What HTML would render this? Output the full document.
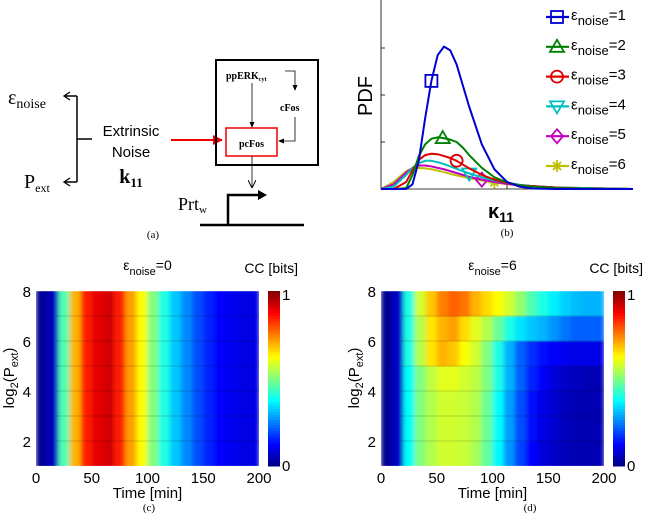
<!DOCTYPE html>
<html><head><meta charset="utf-8"><style>
body{margin:0;background:#fff;}
svg{display:block;font-family:"Liberation Sans",sans-serif;}
.serif{font-family:"Liberation Serif",serif;}
</style></head><body>
<svg id="fig" width="657" height="514" viewBox="0 0 657 514">
<defs>
<marker id="ah" markerWidth="8" markerHeight="8" refX="7" refY="4" orient="auto" markerUnits="userSpaceOnUse"><path d="M0,0 L8,4 L0,8" fill="none" stroke="#000" stroke-width="1"/></marker>
<marker id="ahf" markerWidth="6" markerHeight="6" refX="5" refY="3" orient="auto" markerUnits="userSpaceOnUse"><path d="M0,0.5 L6,3 L0,5.5z" fill="#000"/></marker>
<marker id="ahr" markerWidth="10" markerHeight="10" refX="9" refY="5" orient="auto" markerUnits="userSpaceOnUse"><path d="M0,0 L10,5 L0,10z" fill="#e00"/></marker>
<filter id="hblur" x="0" y="0" width="1" height="1"><feGaussianBlur stdDeviation="2.5 0.4" edgeMode="duplicate"/></filter>
</defs>
<g>
<text x="8" y="104" font-size="20" class="serif">ε<tspan font-size="14" dy="4">noise</tspan></text>
<text x="24" y="188" font-size="20" class="serif">P<tspan font-size="12" dy="4">ext</tspan></text>
<path d="M77,96 V182 M77,139 H92 M77,96 H65 M77,182 H65" stroke="#000" stroke-width="1.5" fill="none"/>
<path d="M70,92 L64,96 L70,100 M70,178 L64,182 L70,186" stroke="#000" stroke-width="1.3" fill="none"/>
<text x="131" y="136" font-size="15" text-anchor="middle">Extrinsic</text>
<text x="131" y="157" font-size="15" text-anchor="middle">Noise</text>
<text x="131" y="183" font-size="20" font-weight="bold" text-anchor="middle" class="serif">k<tspan font-size="13" dy="4">11</tspan></text>
<line x1="171" y1="140" x2="222" y2="140" stroke="#e00" stroke-width="2" marker-end="url(#ahr)"/>
<rect x="216" y="60" width="102" height="105" fill="none" stroke="#000" stroke-width="2"/>
<text x="226" y="79" font-size="10" font-weight="bold" class="serif">ppERK<tspan font-size="6" dy="2">cyt</tspan></text>
<text x="280" y="111" font-size="10" font-weight="bold" class="serif">cFos</text>
<rect x="226" y="128" width="51" height="28" fill="none" stroke="#e00" stroke-width="1.5"/>
<text x="251.5" y="147" font-size="10" font-weight="bold" text-anchor="middle" class="serif">pcFos</text>
<path d="M252,83 V127" stroke="#000" stroke-width="0.8" marker-end="url(#ahf)"/>
<path d="M285,71 H295 V90" stroke="#000" stroke-width="0.8" fill="none" marker-end="url(#ahf)"/>
<path d="M295,117 V141 H279" stroke="#000" stroke-width="0.8" fill="none" marker-end="url(#ahf)"/>
<path d="M252,156 V187" stroke="#000" stroke-width="0.8" marker-end="url(#ah)"/>
<text x="178" y="210" font-size="18" class="serif">Prt<tspan font-size="11" dy="3">w</tspan></text>
<path d="M228,225 V195 H262" stroke="#000" stroke-width="2.5" fill="none"/>
<path d="M258,190 L267,195 L258,200z" fill="#000"/>
<line x1="200" y1="225" x2="304" y2="225" stroke="#000" stroke-width="2.5"/>
<text x="153" y="238" font-size="11" text-anchor="middle" class="serif">(a)</text>
</g>
<g id="pb">
<text x="507" y="236" font-size="11" text-anchor="middle" class="serif">(b)</text>
</g>
<g id="pc"></g>
<g id="pd"></g>
</svg>
<script>
// ---- Panel b data ----
const kappaX=[0,0.5,1,1.25,1.5,1.75,2,2.25,2.5,2.75,3,3.25,3.5,4,4.5,5,5.5,6,7,8,10];
const pdf1=[0,0,0,0.1,0.6,1.5,2.3,2.85,3.03,2.95,2.65,2.2,1.75,0.95,0.42,0.15,0.05,0.01,0,0,0];
const pdf2=[0,0,0.02,0.3,0.7,0.95,1.07,1.1,1.08,1.05,1.0,0.88,0.72,0.45,0.25,0.14,0.08,0.05,0.02,0.01,0];
const pdf3=[0,0,0.15,0.4,0.62,0.72,0.75,0.74,0.7,0.66,0.6,0.52,0.44,0.3,0.2,0.13,0.08,0.06,0.03,0.01,0];
const pdf4=[0,0.05,0.3,0.45,0.55,0.6,0.6,0.57,0.53,0.48,0.43,0.38,0.33,0.25,0.18,0.13,0.09,0.06,0.03,0.02,0];
const pdf5=[0,0.1,0.35,0.45,0.5,0.5,0.48,0.45,0.42,0.38,0.34,0.3,0.26,0.2,0.15,0.11,0.08,0.06,0.03,0.02,0];
const pdf6=[0,0.15,0.38,0.44,0.45,0.44,0.42,0.39,0.36,0.32,0.29,0.26,0.23,0.18,0.14,0.1,0.08,0.06,0.03,0.02,0];
const markerX=[2.0,2.45,3.0,3.5,4.0,4.5];
const legendLabels=["1","2","3","4","5","6"];
// ---- Heatmap data ----
const timeBins=[0,10,20,30,40,50,60,70,80,90,100,110,120,130,140,150,160,170,180,190];
const timeTicks=[0,50,100,150,200];
const yTicks=[2,4,6,8];
const rowC=[0.02,0.06,0.45,0.7,0.85,0.9,0.92,0.85,0.72,0.62,0.5,0.4,0.32,0.26,0.2,0.16,0.13,0.11,0.1,0.1];
const ccNoise0=[rowC,rowC,rowC,rowC,rowC,rowC,rowC];
const dRow1=[0.02,0.07,0.38,0.5,0.55,0.58,0.58,0.57,0.54,0.47,0.37,0.27,0.19,0.13,0.09,0.07,0.06,0.05,0.05,0.05];
const dRow2=[0.02,0.07,0.38,0.5,0.55,0.58,0.58,0.57,0.55,0.48,0.38,0.28,0.2,0.14,0.1,0.08,0.06,0.05,0.05,0.05];
const dRow3=[0.02,0.07,0.38,0.5,0.55,0.58,0.58,0.57,0.55,0.48,0.38,0.28,0.2,0.14,0.1,0.08,0.06,0.05,0.05,0.05];
const dRow4=[0.02,0.07,0.38,0.5,0.56,0.6,0.6,0.58,0.56,0.5,0.4,0.3,0.22,0.16,0.12,0.09,0.07,0.06,0.05,0.05];
const dRow5=[0.02,0.07,0.4,0.55,0.65,0.7,0.68,0.62,0.58,0.5,0.4,0.3,0.22,0.17,0.14,0.12,0.11,0.1,0.1,0.1];
const dRow6=[0.02,0.07,0.4,0.55,0.65,0.7,0.72,0.66,0.6,0.55,0.48,0.4,0.35,0.32,0.3,0.27,0.24,0.22,0.22,0.22];
const dRow7=[0.02,0.07,0.4,0.58,0.68,0.75,0.78,0.76,0.7,0.66,0.62,0.58,0.52,0.45,0.4,0.36,0.33,0.31,0.3,0.3];
const ccNoise6=[dRow1,dRow2,dRow3,dRow4,dRow5,dRow6,dRow7];

const NS='http://www.w3.org/2000/svg';
function mk(tag,attrs,parent){const e=document.createElementNS(NS,tag);for(const k in attrs)e.setAttribute(k,attrs[k]);parent.appendChild(e);return e;}
function jet(v){v=Math.max(0,Math.min(1,v));
 const r=Math.max(0,Math.min(1,1.5-Math.abs(4*v-3))),g=Math.max(0,Math.min(1,1.5-Math.abs(4*v-2))),b=Math.max(0,Math.min(1,1.5-Math.abs(4*v-1)));
 return `rgb(${Math.round(r*255)},${Math.round(g*255)},${Math.round(b*255)})`;}

const pb=document.getElementById('pb');
const bx=v=>381+v*25.2, by=v=>189-v*47;
const ax=mk('path',{d:'M381,0 V189 H633',fill:'none',stroke:'#000','stroke-width':0.8},pb);


[1,2,3].forEach(t=>{mk('line',{x1:381,x2:385,y1:by(t),y2:by(t),stroke:'#000','stroke-width':0.8},pb);});
mk('line',{x1:bx(5),x2:bx(5),y1:189,y2:185,stroke:'#000','stroke-width':0.8},pb);
const yl=mk('text',{x:0,y:0,'font-size':20,'text-anchor':'middle',transform:'translate(372,96) rotate(-90)'},pb);yl.textContent='PDF';


const xl=mk('text',{x:488,y:218,'font-size':20,'font-weight':'bold'},pb);xl.innerHTML='κ<tspan font-size="14" dy="4">11</tspan>';


const series=[pdf1,pdf2,pdf3,pdf4,pdf5,pdf6];
const cols=['#0000d0','#008000','#e00000','#00bfbf','#bf00bf','#bfbf00'];
function interp(arr,x){for(let i=0;i<kappaX.length-1;i++){if(x>=kappaX[i]&&x<=kappaX[i+1]){const t=(x-kappaX[i])/(kappaX[i+1]-kappaX[i]);return arr[i]+t*(arr[i+1]-arr[i]);}}return 0;}
function marker(g,i,cx,cy){const c=cols[i],s=6;let e;
 if(i===0)e=mk('rect',{x:cx-s,y:cy-s,width:2*s,height:2*s,fill:'none',stroke:c,'stroke-width':1.8},g);
 else if(i===1)e=mk('path',{d:`M${cx},${cy-s-1}L${cx+s+1},${cy+s-1}L${cx-s-1},${cy+s-1}Z`,fill:'none',stroke:c,'stroke-width':1.8},g);
 else if(i===2)e=mk('circle',{cx:cx,cy:cy,r:s,fill:'none',stroke:c,'stroke-width':1.8},g);
 else if(i===3)e=mk('path',{d:`M${cx-s-1},${cy-s+1}L${cx+s+1},${cy-s+1}L${cx},${cy+s+1}Z`,fill:'none',stroke:c,'stroke-width':1.8},g);
 else if(i===4)e=mk('path',{d:`M${cx},${cy-s-1}L${cx+s},${cy}L${cx},${cy+s+1}L${cx-s},${cy}Z`,fill:'none',stroke:c,'stroke-width':1.8},g);
 else e=mk('path',{d:`M${cx-s},${cy}H${cx+s}M${cx},${cy-s}V${cy+s}M${cx-4},${cy-4}L${cx+4},${cy+4}M${cx-4},${cy+4}L${cx+4},${cy-4}`,stroke:c,'stroke-width':1.8},g);
 return e;}
series.slice().reverse().forEach((arr,ri)=>{const i=5-ri;
 const p=mk('path',{d:arr.map((v,j)=>(j?'L':'M')+bx(kappaX[j])+','+by(v)).join(''),fill:'none',stroke:cols[i],'stroke-width':2,'stroke-linejoin':'round'},pb);
 
 
 const m=marker(pb,i,bx(markerX[i]),by(interp(arr,markerX[i])));
 
 
});
legendLabels.forEach((lab,i)=>{const y=17+i*29.8;
 const g=mk('g',{},pb);
 
 
 mk('line',{x1:546,x2:569,y1:y,y2:y,stroke:cols[i],'stroke-width':2.2},g);
 marker(g,i,557,y);
 const t=mk('text',{x:571,y:y+3,'font-size':15},g);t.innerHTML='ε<tspan font-size="13" dy="5">noise</tspan><tspan dy="-5">='+lab+'</tspan>';
});

function heat(gid,data,X0,title,cap,capx){
 const g=document.getElementById(gid),X1=X0+223,Y0=291,Y1=466;
 const tx=t=>X0+t/200*(X1-X0), ty=v=>Y1-(v-1)/7*(Y1-Y0);
 const cid='clip'+gid;
 const cp=mk('clipPath',{id:cid},g);mk('rect',{x:X0,y:Y0,width:X1-X0,height:Y1-Y0},cp);
 const outer=mk('g',{'clip-path':`url(#${cid})`},g);
 const cells=mk('g',{filter:'url(#hblur)'},outer);
 data.forEach((row,r)=>{row.forEach((v,c)=>{
  const e=mk('rect',{x:tx(timeBins[c])-(c===row.length-1?0:0),y:ty(r+2),width:tx(timeBins[c]+10)-tx(timeBins[c])+0.5,height:ty(r+1)-ty(r+2)+0.3,fill:jet(v)},cells);
  
  
 });});
 data.forEach((row,r)=>{if(r>0)mk('line',{x1:X0+20,x2:X1,y1:ty(r+1),y2:ty(r+1),stroke:'rgba(0,0,0,0.22)','stroke-width':0.7},outer);});
 const cb=X1+9;
 for(let k=0;k<64;k++){const e=mk('rect',{x:cb,y:Y1-(k+1)*(Y1-Y0)/64,width:12,height:(Y1-Y0)/64+0.5,fill:jet((k+0.5)/64)},g);
  
  }
 let t=mk('text',{x:cb+14,y:Y0+9,'font-size':15},g);t.textContent='1';
 t=mk('text',{x:cb+14,y:Y1+5,'font-size':15},g);t.textContent='0';
 t=mk('text',{x:cb+30,y:273,'font-size':14,'text-anchor':'end'},g);t.textContent='CC [bits]';
 
 
 t=mk('text',{x:(X0+X1)/2,y:270,'font-size':14,'text-anchor':'middle'},g);t.innerHTML='ε<tspan font-size="11" dy="5">noise</tspan><tspan dy="-5">='+title+'</tspan>';
 
 
 timeTicks.forEach(v=>{const e=mk('text',{x:tx(v),y:483,'font-size':15,'text-anchor':'middle'},g);e.textContent=v;});
 yTicks.forEach(v=>{const e=mk('text',{x:X0-5,y:ty(v)+6,'font-size':15,'text-anchor':'end'},g);e.textContent=v;});
 t=mk('text',{x:(X0+X1)/2,y:498,'font-size':15,'text-anchor':'middle'},g);t.textContent='Time [min]';
 
 
 t=mk('text',{x:0,y:0,'font-size':15,'text-anchor':'middle',transform:`translate(${X0-22},378) rotate(-90)`},g);t.innerHTML='log<tspan font-size="11" dy="4">2</tspan><tspan dy="-4">(P</tspan><tspan font-size="11" dy="4">ext</tspan><tspan dy="-4">)</tspan>';
 
 
 t=mk('text',{x:capx,y:511,'font-size':11,'text-anchor':'middle','font-family':'Liberation Serif'},g);t.textContent=cap;
}
heat('pc',ccNoise0,36,'0','(c)',149);
heat('pd',ccNoise6,381,'6','(d)',530);
</script>
</body></html>
